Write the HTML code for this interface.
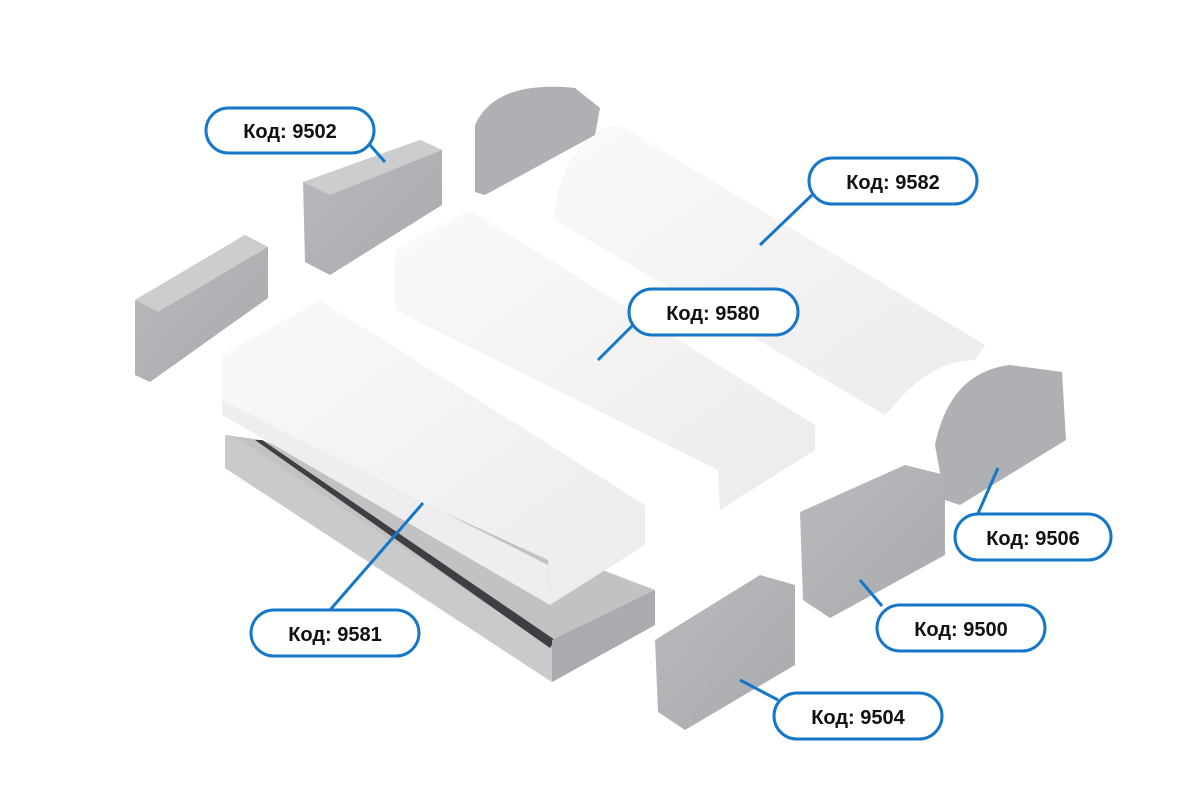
<!DOCTYPE html>
<html><head><meta charset="utf-8"><style>
html,body{margin:0;padding:0;background:#fff;width:1200px;height:800px;overflow:hidden}
text{font-family:"Liberation Sans",sans-serif;font-weight:bold;font-size:20px;fill:#111}
</style></head><body>
<svg width="1200" height="800" viewBox="0 0 1200 800" xmlns="http://www.w3.org/2000/svg">
<defs>
<linearGradient id="wh" x1="0" y1="0" x2="1" y2="1"><stop offset="0" stop-color="#fafafa"/><stop offset="1" stop-color="#ebebeb"/></linearGradient>
<linearGradient id="gr" x1="0" y1="0" x2="1" y2="1"><stop offset="0" stop-color="#b8babd"/><stop offset="1" stop-color="#a8aaad"/></linearGradient>
</defs>
<!-- profile aluminium -->
<polygon points="225,435 262,440 655,590 655,625 552,682 225,468" fill="#c0c2c4"/>
<polygon points="225,435 240,440 555,650 552,682 225,468" fill="#c8cacc"/>
<polygon points="255,440 262,440 555,640 550,648" fill="#3d3f42"/>
<polygon points="552,640 655,590 655,625 552,682" fill="#a9abae"/>
<!-- diffuser 9581 -->
<polygon points="222,355 320,300 645,505 645,545 550,605 548,560 222,410" fill="url(#wh)"/>
<polygon points="222,400 548,565 550,605 222,415" fill="#eeeeee"/>
<!-- diffuser 9580 -->
<polygon points="395,250 470,210 815,425 815,450 720,510 718,470 395,310" fill="url(#wh)"/>
<!-- diffuser 9582 -->
<path d="M555,205 Q570,130 620,125 L985,345 L975,360 Q930,360 890,410 L885,415 L555,220 Z" fill="url(#wh)"/>
<!-- caps -->
<polygon points="303,182 420,140 442,150 442,205 330,275 305,262" fill="url(#gr)"/>
<polygon points="303,182 420,140 442,150 330,195" fill="#cbcdcf"/>
<polygon points="135,300 245,235 268,247 268,298 150,382 135,375" fill="url(#gr)"/>
<polygon points="135,300 245,235 268,247 158,312" fill="#cbcdcf"/>
<path d="M475,192 L475,125 Q495,80 575,88 L600,108 L595,135 L485,195 Z" fill="#aeb0b3"/>
<path d="M945,500 L935,445 Q950,372 1010,365 L1062,372 L1066,440 L960,505 Z" fill="#aeb0b3"/>
<polygon points="800,512 905,465 945,475 945,555 830,618 803,600" fill="url(#gr)"/>
<polygon points="655,640 760,575 795,585 795,665 685,730 658,712" fill="url(#gr)"/>
<!-- leader lines -->
<g stroke="#1577c9" stroke-width="3" fill="none">
<line x1="370" y1="145" x2="385" y2="162"/>
<line x1="812" y1="195" x2="760" y2="245"/>
<line x1="633" y1="325" x2="598" y2="360"/>
<line x1="976" y1="518" x2="998" y2="468"/>
<line x1="882" y1="606" x2="860" y2="580"/>
<line x1="330" y1="610" x2="423" y2="503"/>
<line x1="778" y1="700" x2="740" y2="680"/>
</g>
<!-- labels -->
<g stroke="#1577c9" stroke-width="3" fill="#fff">
<rect x="206" y="108" width="168" height="45" rx="22.5"/>
<rect x="809" y="158" width="168" height="46" rx="23"/>
<rect x="629" y="289" width="169" height="46" rx="23"/>
<rect x="955" y="514" width="156" height="46" rx="23"/>
<rect x="877" y="605" width="168" height="46" rx="23"/>
<rect x="251" y="610" width="168" height="46" rx="23"/>
<rect x="774" y="693" width="168" height="46" rx="23"/>
</g>
<text x="290" y="138" text-anchor="middle">Код: 9502</text>
<text x="893" y="189" text-anchor="middle">Код: 9582</text>
<text x="713" y="320" text-anchor="middle">Код: 9580</text>
<text x="1033" y="545" text-anchor="middle">Код: 9506</text>
<text x="961" y="636" text-anchor="middle">Код: 9500</text>
<text x="335" y="641" text-anchor="middle">Код: 9581</text>
<text x="858" y="724" text-anchor="middle">Код: 9504</text>
</svg>
</body></html>
